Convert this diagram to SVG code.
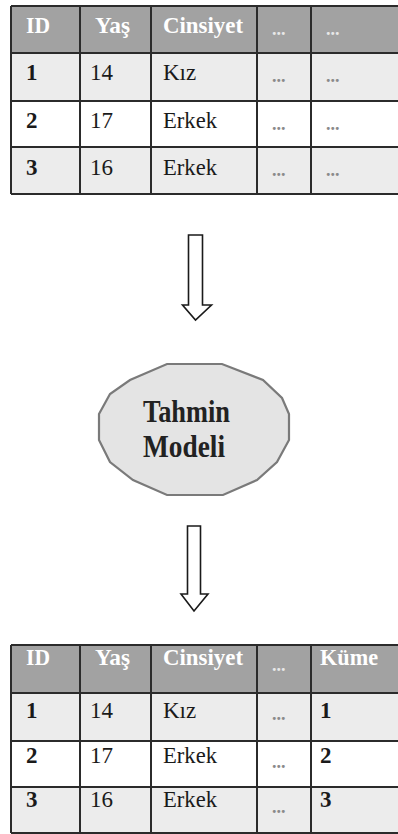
<svg xmlns="http://www.w3.org/2000/svg" width="398" height="834" viewBox="0 0 398 834">
  <style>
    .hdr { fill: #a2a2a2; }
    .odd { fill: #ececec; }
    .even { fill: #ffffff; }
    .grid { stroke: #2b2b2b; stroke-width: 2; fill: none; }
    .th { font-family: "Liberation Serif", serif; font-weight: bold; font-size: 23px; fill: #ffffff; }
    .tb { font-family: "Liberation Serif", serif; font-weight: bold; font-size: 23px; fill: #1a1a1a; }
    .td { font-family: "Liberation Serif", serif; font-size: 23px; fill: #1a1a1a; }
    .dots { font-family: "Liberation Serif", serif; font-size: 18px; fill: #8a8a8a; font-weight: bold; }
    .hdots { font-family: "Liberation Serif", serif; font-size: 18px; fill: #e8e8e8; font-weight: bold; }
    .arrow { fill: #ffffff; stroke: #1a1a1a; stroke-width: 1.6; stroke-linejoin: miter; }
    .model { fill: #e4e4e4; stroke: #7a7a7a; stroke-width: 2.2; }
    .mtext { font-family: "Liberation Serif", serif; font-weight: bold; font-size: 32px; fill: #222222; }
  </style>

  <!-- input table -->
  <g id="input-table">
    <rect class="hdr" x="11" y="6" width="389" height="47"/>
    <rect class="odd" x="11" y="53" width="389" height="48"/>
    <rect class="even" x="11" y="101" width="389" height="46"/>
    <rect class="odd" x="11" y="147" width="389" height="47"/>
    <path class="grid" d="M11 6 H400 M11 53 H400 M11 101 H400 M11 147 H400 M11 194 H400 M11 6 V194 M80 6 V194 M151 6 V194 M257 6 V194 M311 6 V194"/>
    <text class="th" x="26" y="33" textLength="24" lengthAdjust="spacingAndGlyphs">ID</text>
    <text class="th" x="95" y="33" textLength="35" lengthAdjust="spacingAndGlyphs">Yaş</text>
    <text class="th" x="163" y="33" textLength="80" lengthAdjust="spacingAndGlyphs">Cinsiyet</text>
    <text class="hdots" x="272" y="35">...</text>
    <text class="hdots" x="326" y="35">...</text>

    <text class="tb" x="26" y="80">1</text>
    <text class="td" x="90" y="80">14</text>
    <text class="td" x="163" y="80">Kız</text>
    <text class="dots" x="272" y="82">...</text>
    <text class="dots" x="326" y="82">...</text>

    <text class="tb" x="26" y="128">2</text>
    <text class="td" x="90" y="128">17</text>
    <text class="td" x="163" y="128" textLength="54" lengthAdjust="spacingAndGlyphs">Erkek</text>
    <text class="dots" x="272" y="130">...</text>
    <text class="dots" x="326" y="130">...</text>

    <text class="tb" x="26" y="175">3</text>
    <text class="td" x="90" y="175">16</text>
    <text class="td" x="163" y="175" textLength="54" lengthAdjust="spacingAndGlyphs">Erkek</text>
    <text class="dots" x="272" y="176">...</text>
    <text class="dots" x="326" y="176">...</text>
  </g>

  <!-- connectors -->
  <g id="connectors">
    <path class="arrow" d="M188.5 235 H202.5 V305 H211.5 L195.5 320 L182.5 305 H188.5 Z"/>
    <path class="arrow" d="M187.5 526 H200.5 V594 H208 L194 611 L181 594 H187.5 Z"/>
  </g>

  <!-- prediction model -->
  <g id="model">
    <polygon class="model" points="167,364 222,364 263,380 282,398 289,414 289,440 277,462 257,480 223,495 167,495 133,480 110,462 99,440 99,414 110,394 130,380"/>
    <text class="mtext" x="143" y="422" textLength="87" lengthAdjust="spacingAndGlyphs">Tahmin</text>
    <text class="mtext" x="143" y="457" textLength="82" lengthAdjust="spacingAndGlyphs">Modeli</text>
  </g>

  <!-- output table -->
  <g id="output-table">
    <rect class="hdr" x="11" y="645" width="389" height="48"/>
    <rect class="odd" x="11" y="693" width="389" height="48"/>
    <rect class="even" x="11" y="741" width="389" height="46"/>
    <rect class="odd" x="11" y="787" width="389" height="46"/>
    <path class="grid" d="M11 645 H400 M11 693 H400 M11 741 H400 M11 787 H400 M11 833 H400 M11 645 V833 M80 645 V833 M151 645 V833 M257 645 V833 M311 645 V833"/>
    <text class="th" x="26" y="665" textLength="24" lengthAdjust="spacingAndGlyphs">ID</text>
    <text class="th" x="95" y="665" textLength="35" lengthAdjust="spacingAndGlyphs">Yaş</text>
    <text class="th" x="163" y="665" textLength="80" lengthAdjust="spacingAndGlyphs">Cinsiyet</text>
    <text class="hdots" x="272" y="671">...</text>
    <text class="th" x="320" y="665" textLength="58" lengthAdjust="spacingAndGlyphs">Küme</text>

    <text class="tb" x="26" y="718">1</text>
    <text class="td" x="90" y="718">14</text>
    <text class="td" x="163" y="718">Kız</text>
    <text class="dots" x="272" y="720">...</text>
    <text class="tb" x="320" y="718">1</text>

    <text class="tb" x="26" y="763">2</text>
    <text class="td" x="90" y="763">17</text>
    <text class="td" x="163" y="763" textLength="54" lengthAdjust="spacingAndGlyphs">Erkek</text>
    <text class="dots" x="272" y="768">...</text>
    <text class="tb" x="320" y="763">2</text>

    <text class="tb" x="26" y="807">3</text>
    <text class="td" x="90" y="807">16</text>
    <text class="td" x="163" y="807" textLength="54" lengthAdjust="spacingAndGlyphs">Erkek</text>
    <text class="dots" x="272" y="813">...</text>
    <text class="tb" x="320" y="807">3</text>
  </g>
</svg>
